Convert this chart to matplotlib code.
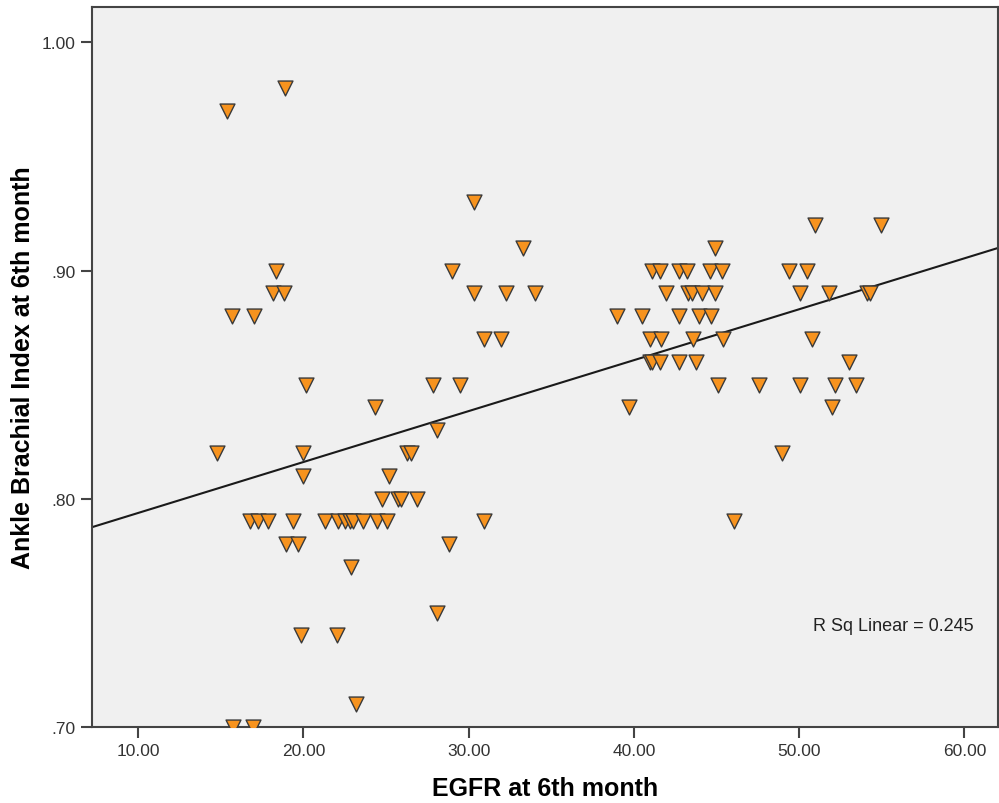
import matplotlib.pyplot as plt
import numpy as np

# データ
egfr = [15.37, 18.86, 18.35, 18.15, 18.8, 15.67, 17.0, 20.17, 14.76, 19.97, 19.97,
        16.78, 17.28, 17.89, 19.36, 21.28, 22.1, 22.53, 22.83, 23.0, 23.6, 24.45, 25.05, 30.94, 46.08,
        18.96, 19.70, 28.84,
        22.87, 28.07, 19.87, 22.03, 23.18, 15.77, 16.98,
        24.75, 25.7, 25.9, 26.87, 25.19, 26.3, 26.5, 28.07,
        24.31, 39.68, 51.99,
        27.87, 29.49, 45.07, 47.59, 50.07, 52.19, 53.46,
        30.94, 31.97, 40.99, 41.64, 43.58, 45.39, 50.78,
        30.35, 32.28, 33.99, 41.96, 43.25, 43.5, 44.12, 44.93, 50.05, 51.79, 54.1, 54.3,
        28.99, 41.1, 41.6, 42.7, 43.2, 44.62, 45.33, 49.36, 50.47,
        33.26, 44.89, 50.98, 54.98, 30.35,
        38.97, 40.48, 42.7, 43.91, 44.68,
        41.0, 41.1, 41.55, 42.7, 43.78, 52.99,
        48.96]
abi = [0.97, 0.98, 0.90, 0.89, 0.89, 0.88, 0.88, 0.85, 0.82, 0.82, 0.81,
       0.79, 0.79, 0.79, 0.79, 0.79, 0.79, 0.79, 0.79, 0.79, 0.79, 0.79, 0.79, 0.79, 0.79,
       0.78, 0.78, 0.78,
       0.77, 0.75, 0.74, 0.74, 0.71, 0.70, 0.70,
       0.80, 0.80, 0.80, 0.80, 0.81, 0.82, 0.82, 0.83,
       0.84, 0.84, 0.84,
       0.85, 0.85, 0.85, 0.85, 0.85, 0.85, 0.85,
       0.87, 0.87, 0.87, 0.87, 0.87, 0.87, 0.87,
       0.89, 0.89, 0.89, 0.89, 0.89, 0.89, 0.89, 0.89, 0.89, 0.89, 0.89, 0.89,
       0.90, 0.90, 0.90, 0.90, 0.90, 0.90, 0.90, 0.90, 0.90,
       0.91, 0.91, 0.92, 0.92, 0.93,
       0.88, 0.88, 0.88, 0.88, 0.88,
       0.86, 0.86, 0.86, 0.86, 0.86, 0.86,
       0.82]
x_ticks = [10, 20, 30, 40, 50, 60]
x_labels = ['10.00', '20.00', '30.00', '40.00', '50.00', '60.00']
y_ticks = [0.70, 0.80, 0.90, 1.00]
y_labels = ['.70', '.80', '.90', '1.00']
r2_text = 'R Sq Linear = 0.245'

plt.rcParams['font.family'] = ['Liberation Sans', 'DejaVu Sans']

fig = plt.figure(figsize=(9.99, 8.04), dpi=100)
ax = fig.add_axes([0.0924, 0.0949, 0.9066, 0.8948])
ax.set_facecolor('#f0f0f0')

# 散布図
ax.scatter(egfr, abi, marker='v', s=115, facecolor='#f7931e',
           edgecolor='#3a3a3a', linewidth=1.0, zorder=3)

# 回帰直線
xlim = (7.23, 62.03)
coef = np.polyfit(egfr, abi, 1)
xx = np.array(xlim)
ax.plot(xx, np.polyval(coef, xx), color='#1a1a1a', lw=1.5, zorder=2)

ax.set_xlim(*xlim)
ax.set_ylim(0.70, 1.0154)
ax.set_xticks(x_ticks)
ax.set_xticklabels(x_labels)
ax.set_yticks(y_ticks)
ax.set_yticklabels(y_labels)
ax.tick_params(direction='out', length=8, width=1.5, color='#444444',
               labelsize=12.5, labelcolor='#333333', pad=4)
for sp in ax.spines.values():
    sp.set_color('#444444')
    sp.set_linewidth(1.5)

ax.set_xlabel('EGFR at 6th month', fontsize=18, fontweight='bold', labelpad=13)
ax.set_ylabel('Ankle Brachial Index at 6th month', fontsize=18,
              fontweight='bold', labelpad=5)

ax.text(0.9726, 0.14, r2_text, transform=ax.transAxes, ha='right', va='center',
        fontsize=13, color='#222222')

fig.savefig('out.png', dpi=100)
